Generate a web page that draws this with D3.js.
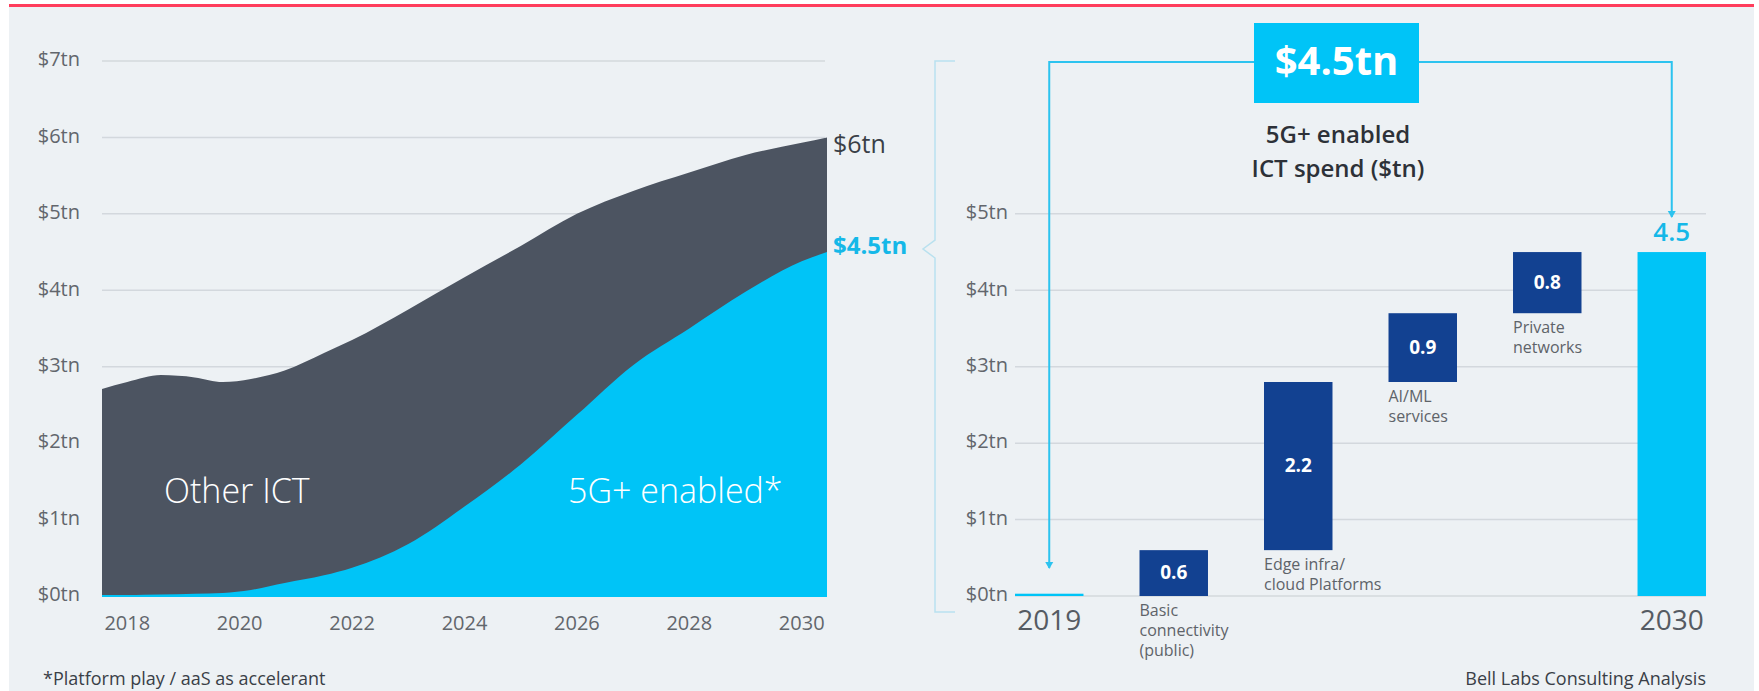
<!DOCTYPE html>
<meta charset="utf-8">
<script src="https://d3js.org/d3.v7.min.js"></script>
<style>
  body { margin: 0; background: #fff; }
  svg text { font-family: "Open Sans", "Noto Sans", sans-serif; }
</style>
<svg id="chart" width="1759" height="691"></svg>

<script>

// ---- data ----
// left: stacked area, ICT spend in $tn
var years     = [2017.55, 2018, 2018.6, 2019.2, 2019.7, 2020.2, 2020.8, 2021.5, 2022, 2023, 2024, 2025, 2026, 2027, 2028, 2029, 2030, 2030.45];
var totalICT  = [2.71, 2.80, 2.89, 2.86, 2.80, 2.84, 2.95, 3.18, 3.35, 3.75, 4.17, 4.58, 5.00, 5.30, 5.54, 5.77, 5.93, 6.00];
var enabled5G = [0.00, 0.01, 0.02, 0.03, 0.04, 0.08, 0.17, 0.27, 0.37, 0.68, 1.17, 1.72, 2.37, 3.02, 3.50, 3.98, 4.38, 4.50];
var yearTicks = [2018, 2020, 2022, 2024, 2026, 2028, 2030];
var leftTicks = [0, 1, 2, 3, 4, 5, 6, 7];

// right: waterfall of 5G+ enabled ICT spend
var steps      = ["2019", "basic", "edge", "aiml", "private", "2030"];
var stepValues = [0.03, 0.6, 2.2, 0.9, 0.8, 4.5];
var stepLabels = [[], ["Basic", "connectivity", "(public)"], ["Edge infra/", "cloud Platforms"], ["AI/ML", "services"], ["Private", "networks"], []];
var rightTicks = [0, 1, 2, 3, 4, 5];

var navy = "#124191", cyan = "#00c4f7", slate = "#4c5461", cyanText = "#15b8e8";

var svg = d3.select("#chart");

// page frame
svg.append("rect").attr("x", 9).attr("y", 7).attr("width", 1745).attr("height", 684).attr("fill", "#edf1f4");
svg.append("rect").attr("x", 9).attr("y", 4).attr("width", 1745).attr("height", 3).attr("fill", "#ff3d5c");

// shared y scale (both panels sit on the same baseline)
var y = d3.scaleLinear().domain([0, 7]).range([596, 61]);

// ================= left panel =================
var x = d3.scaleLinear().domain([2017.55, 2030.45]).range([102, 827]);

var left = svg.append("g");

left.selectAll(".grid")
  .data(leftTicks)
  .enter().append("line")
    .attr("x1", 102).attr("x2", 825)
    .attr("y1", d => y(d)).attr("y2", d => y(d))
    .attr("stroke", "#d3d8dd").attr("stroke-width", 1.5);

left.selectAll(".ylab")
  .data(leftTicks)
  .enter().append("text")
    .attr("x", 80).attr("y", d => y(d))
    .attr("text-anchor", "end").attr("dominant-baseline", "middle")
    .attr("font-size", 20).attr("fill", "#62666c")
    .text(d => "$" + d + "tn");

var pts = years.map((yr, i) => ({ yr: yr, total: totalICT[i], g5: enabled5G[i] }));

var areaTotal = d3.area()
  .x(d => x(d.yr)).y0(y(0)).y1(d => y(d.total))
  .curve(d3.curveMonotoneX);
var area5G = d3.area()
  .x(d => x(d.yr)).y0(y(0)).y1(d => y(d.g5))
  .curve(d3.curveMonotoneX);

left.append("path").datum(pts).attr("d", areaTotal).attr("fill", slate);
left.append("path").datum(pts).attr("d", area5G).attr("fill", cyan);
left.append("line")
  .attr("x1", 102).attr("x2", 827).attr("y1", y(0)).attr("y2", y(0))
  .attr("stroke", cyan).attr("stroke-width", 2);

// x axis labels
left.selectAll(".xlab")
  .data(yearTicks)
  .enter().append("text")
    .attr("x", d => x(d)).attr("y", 625)
    .attr("text-anchor", "middle").attr("dominant-baseline", "middle")
    .attr("font-size", 20).attr("fill", "#62666c")
    .text(d => d);

// labels inside the areas
left.append("text").attr("x", 164).attr("y", 494).attr("dominant-baseline", "middle")
  .attr("font-size", 34).attr("font-weight", 300).attr("fill", "#fff").text("Other ICT");
left.append("text").attr("x", 568).attr("y", 494).attr("dominant-baseline", "middle")
  .attr("font-size", 34).attr("font-weight", 300).attr("fill", "#fff").text("5G+ enabled*");

// end values
var last = pts[pts.length - 1];
left.append("text").attr("x", 833).attr("y", y(last.total) + 9).attr("dominant-baseline", "middle")
  .attr("font-size", 25).attr("fill", "#3a3f47").text("$" + last.total + "tn");
left.append("text").attr("x", 833).attr("y", y(last.g5) - 4).attr("dominant-baseline", "middle")
  .attr("font-size", 24).attr("font-weight", 700).attr("fill", cyanText).text("$" + last.g5 + "tn");

left.append("text").attr("x", 43).attr("y", 680).attr("dominant-baseline", "middle")
  .attr("font-size", 18).attr("fill", "#3a3f47").text("*Platform play / aaS as accelerant");

// brace joining the two panels
svg.append("path")
  .attr("d", "M955,61 H935 V240 L923,249 L935,258 V612 H955")
  .attr("fill", "none").attr("stroke", "#b9e1ef").attr("stroke-width", 1.5);

// ================= right panel =================
var xb = d3.scaleBand().domain(steps).range([1015, 1706]).paddingInner(0.45).paddingOuter(0);

var right = svg.append("g");

right.selectAll(".grid")
  .data(rightTicks)
  .enter().append("line")
    .attr("x1", 1015).attr("x2", 1706)
    .attr("y1", d => y(d)).attr("y2", d => y(d))
    .attr("stroke", "#d3d8dd").attr("stroke-width", 1.5);

right.selectAll(".ylab")
  .data(rightTicks)
  .enter().append("text")
    .attr("x", 1008).attr("y", d => y(d))
    .attr("text-anchor", "end").attr("dominant-baseline", "middle")
    .attr("font-size", 20).attr("fill", "#62666c")
    .text(d => "$" + d + "tn");

// waterfall start / end for each step
var running = 0;
var bars = steps.map(function(s, i) {
  var first = i == 0, lastStep = i == steps.length - 1;
  var lo, hi;
  if (first || lastStep) { lo = 0; hi = stepValues[i]; }
  else { lo = running; hi = running + stepValues[i]; running = hi; }
  return { key: s, v: stepValues[i], lo: lo, hi: hi, total: first || lastStep, lines: stepLabels[i] };
});

right.selectAll(".bar")
  .data(bars)
  .enter().append("rect")
    .attr("x", d => xb(d.key))
    .attr("width", xb.bandwidth())
    .attr("y", d => y(d.hi))
    .attr("height", d => y(d.lo) - y(d.hi))
    .attr("fill", d => d.total ? cyan : navy);

// values inside the navy bars
right.selectAll(".val")
  .data(bars.filter(d => !d.total))
  .enter().append("text")
    .attr("x", d => xb(d.key) + xb.bandwidth() / 2)
    .attr("y", d => (y(d.lo) + y(d.hi)) / 2 + 1)
    .attr("text-anchor", "middle").attr("dominant-baseline", "middle")
    .attr("font-size", 19).attr("font-weight", 700).attr("fill", "#fff")
    .text(d => d.v.toFixed(1));

// category captions under each step
bars.forEach(function(d) {
  d.lines.forEach(function(line, j) {
    right.append("text")
      .attr("x", xb(d.key))
      .attr("y", y(d.lo) + 16 + j * 20)
      .attr("dominant-baseline", "middle")
      .attr("font-size", 16).attr("fill", "#5e6369")
      .text(line);
  });
});

// 2019 / 2030 labels
var endBar = bars[bars.length - 1];
right.selectAll(".yr")
  .data([bars[0], endBar])
  .enter().append("text")
    .attr("x", d => xb(d.key) + xb.bandwidth() / 2)
    .attr("y", 623)
    .attr("text-anchor", "middle").attr("dominant-baseline", "middle")
    .attr("font-size", 28).attr("fill", "#555b63")
    .text(d => d.key);

right.append("text")
  .attr("x", xb(endBar.key) + xb.bandwidth() / 2).attr("y", y(endBar.hi) - 18)
  .attr("text-anchor", "middle").attr("dominant-baseline", "middle")
  .attr("font-size", 26).attr("font-weight", 600).attr("fill", cyanText)
  .text(endBar.v);

// connector from 2019 to 2030 through the headline box
var cx0 = xb("2019") + xb.bandwidth() / 2, cx1 = xb("2030") + xb.bandwidth() / 2;
var topY = 62, boxL = 1254, boxR = 1419;
var arrowColor = "#2cc3ef";

right.append("path")
  .attr("d", "M" + boxL + "," + topY + " H" + cx0 + " V568")
  .attr("fill", "none").attr("stroke", arrowColor).attr("stroke-width", 2);
right.append("path")
  .attr("d", "M" + boxR + "," + topY + " H" + cx1 + " V217")
  .attr("fill", "none").attr("stroke", arrowColor).attr("stroke-width", 2);

function arrowHead(xx, yy) {
  right.append("path")
    .attr("d", "M" + (xx - 4) + "," + (yy - 7) + " L" + xx + "," + yy + " L" + (xx + 4) + "," + (yy - 7) + " Z")
    .attr("fill", arrowColor);
}
arrowHead(cx0, 569);
arrowHead(cx1, 218);

right.append("rect").attr("x", boxL).attr("y", 23).attr("width", boxR - boxL).attr("height", 80).attr("fill", cyan);
right.append("text")
  .attr("x", (boxL + boxR) / 2).attr("y", 64)
  .attr("text-anchor", "middle").attr("dominant-baseline", "middle")
  .attr("font-size", 40).attr("font-weight", 700).attr("fill", "#fff")
  .text("$" + endBar.v + "tn");

right.append("text").attr("x", 1338).attr("y", 137)
  .attr("text-anchor", "middle").attr("dominant-baseline", "middle")
  .attr("font-size", 24).attr("font-weight", 600).attr("fill", "#2d3138").text("5G+ enabled");
right.append("text").attr("x", 1338).attr("y", 171)
  .attr("text-anchor", "middle").attr("dominant-baseline", "middle")
  .attr("font-size", 24).attr("font-weight", 600).attr("fill", "#2d3138").text("ICT spend ($tn)");

right.append("text").attr("x", 1706).attr("y", 680)
  .attr("text-anchor", "end").attr("dominant-baseline", "middle")
  .attr("font-size", 18).attr("fill", "#3a3f47").text("Bell Labs Consulting Analysis");

</script>
